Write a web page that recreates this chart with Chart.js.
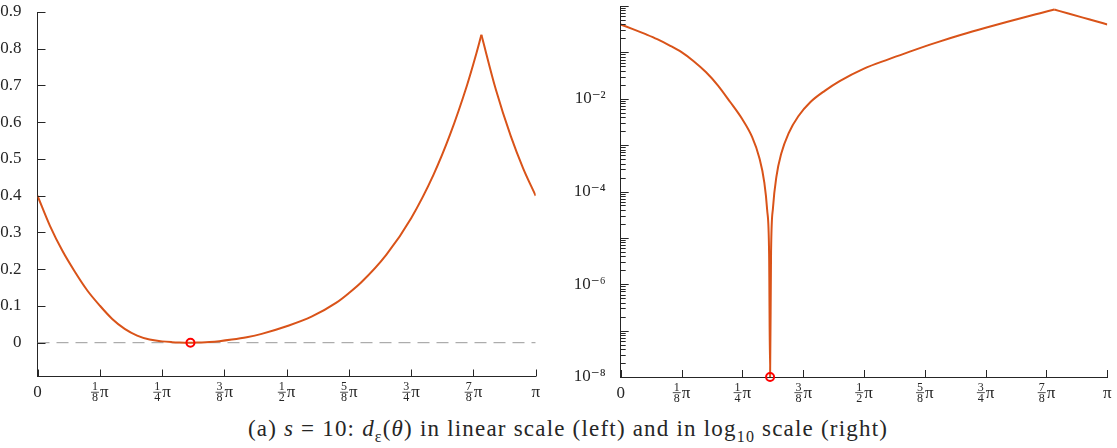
<!DOCTYPE html>
<html>
<head>
<meta charset="utf-8">
<script src="https://cdn.jsdelivr.net/npm/chart.js@4.4.1/dist/chart.umd.min.js"></script>
<style>
  body { margin: 0; background: #fff; }
  #wrap { position: relative; width: 1117px; height: 448px; overflow: hidden; }
  #left { position: absolute; left: 0; top: 0; }
  #right { position: absolute; left: 575px; top: 0; }
  #caption {
    position: absolute; left: 0; top: 416px; width: 1136px; text-align: center;
    font-family: 'Liberation Serif', 'DejaVu Serif', serif; font-size: 23px;
    letter-spacing: 1.2px; color: #262626; white-space: nowrap;
  }
  #caption sub { font-size: 16px; }
</style>
</head>
<body>
<div id="wrap">
  <canvas id="left" width="575" height="405"></canvas>
  <canvas id="right" width="542" height="405"></canvas>
  <div id="caption">(a) <i>s</i> = 10: <i>d</i><sub>ε</sub>(<i>θ</i>) in linear scale (left) and in log<sub>10</sub> scale (right)</div>
</div>
<script>
// theta is in units of pi
var theta = [0.000, 0.025, 0.050, 0.075, 0.100, 0.125, 0.150, 0.175, 0.200, 0.225,
  0.250, 0.270, 0.285, 0.295, 0.301, 0.305, 0.307, 0.309, 0.313, 0.320,
  0.330, 0.345, 0.365, 0.390, 0.420, 0.450, 0.500, 0.550, 0.600, 0.625,
  0.650, 0.700, 0.750, 0.795, 0.828, 0.862, 0.879, 0.891, 0.920, 0.950,
  0.975, 1.000];
var dist = [0.400, 0.318, 0.250, 0.193, 0.142, 0.101, 0.0646, 0.0376, 0.0193, 0.0085,
  0.0036, 0.0015, 0.00053, 0.00016, 0.00004, 0.0000045, 1e-8, 0.000005, 0.000045, 0.00021,
  0.00066, 0.0018, 0.0042, 0.0085, 0.0150, 0.0240, 0.0447, 0.0708, 0.1090, 0.1350,
  0.1644, 0.2390, 0.3390, 0.4575, 0.5660, 0.7000, 0.7780, 0.8380, 0.6890, 0.5620,
  0.4740, 0.4000];

var xTicks = [0, 0.125, 0.25, 0.375, 0.5, 0.625, 0.75, 0.875, 1];
var xTickNum = [0, 1, 1, 3, 1, 5, 3, 7, 1];
var xTickDen = [1, 8, 4, 8, 2, 8, 4, 8, 1];
var linTicks = [0, 0.1, 0.2, 0.3, 0.4, 0.5, 0.6, 0.7, 0.8, 0.9];
var logExps = [-8, -7, -6, -5, -4, -3, -2, -1, 0];
var logLabelExps = [-8, -6, -4, -2];
var logLabels = ['10⁻⁸', '10⁻⁶', '10⁻⁴', '10⁻²'];

var axisColor = '#262626';
var lineColor = '#D95319';
var fontFam = "'Liberation Serif', 'DejaVu Serif', serif";

var curve = theta.map(function (t, i) { return { x: t, y: dist[i] }; });
var iMin = dist.indexOf(Math.min.apply(null, dist));
var iPeak = dist.indexOf(Math.max.apply(null, dist.slice(1)));
var minPoint = [{ x: theta[iMin], y: dist[iMin] }];

function isPow10(v) {
  var k = Math.round(Math.log10(v));
  return Math.abs(v - Math.pow(10, k)) < 1e-6 * v;
}

// MATLAB-style ticks pointing into the axes
var innerTicks = {
  id: 'innerTicks',
  afterDraw: function (chart) {
    var ctx = chart.ctx, xs = chart.scales.x, ys = chart.scales.y;
    ctx.save();
    ctx.strokeStyle = axisColor;
    ctx.lineWidth = 1;
    ctx.beginPath();
    xs.ticks.forEach(function (t) {
      var px = Math.round(xs.getPixelForValue(t.value)) + 0.5;
      ctx.moveTo(px, ys.bottom);
      ctx.lineTo(px, ys.bottom - 7);
    });
    ys.ticks.forEach(function (t) {
      var py = Math.round(ys.getPixelForValue(t.value)) + 0.5;
      var len = (ys.type === 'logarithmic' && !isPow10(t.value)) ? 5 : 8;
      ctx.moveTo(xs.left, py);
      ctx.lineTo(xs.left + len, py);
    });
    ctx.stroke();
    ctx.restore();
  }
};

// x tick labels as stacked fractions of pi
var fracLabels = {
  id: 'fracLabels',
  afterDraw: function (chart) {
    var ctx = chart.ctx, xs = chart.scales.x, base = chart.chartArea.bottom;
    ctx.save();
    ctx.fillStyle = axisColor;
    ctx.textBaseline = 'alphabetic';
    xTicks.forEach(function (v, i) {
      var px = xs.getPixelForValue(v), n = xTickNum[i], d = xTickDen[i];
      if (n === 0 || d === 1) {
        ctx.font = '17px ' + fontFam;
        ctx.textAlign = 'center';
        ctx.fillText(n === 0 ? '0' : 'π', px, base + 20.5);
        return;
      }
      ctx.font = '12px ' + fontFam;
      var fw = Math.max(ctx.measureText(String(n)).width, ctx.measureText(String(d)).width) + 2;
      ctx.font = '17px ' + fontFam;
      var pw = ctx.measureText('π').width;
      var x0 = px - (fw + 1 + pw) / 2;
      ctx.font = '12px ' + fontFam;
      ctx.textAlign = 'center';
      ctx.fillText(String(n), x0 + fw / 2, base + 13.5);
      ctx.fillText(String(d), x0 + fw / 2, base + 24.5);
      ctx.fillRect(x0, base + 15.3, fw, 0.8);
      ctx.font = '17px ' + fontFam;
      ctx.textAlign = 'left';
      ctx.fillText('π', x0 + fw + 1, base + 20.5);
    });
    ctx.restore();
  }
};

function xScale(h) {
  return {
    type: 'linear', min: 0, max: 1,
    afterBuildTicks: function (s) { s.ticks = xTicks.map(function (v) { return { value: v }; }); },
    afterFit: function (s) { s.height = h; s.paddingLeft = 0; s.paddingRight = 0; },
    grid: { display: false },
    border: { color: axisColor, width: 1 },
    ticks: { display: false }
  };
}

function curveSets() {
  var a = curve.slice(0, iPeak + 1), b = curve.slice(iPeak);
  return [a, b].map(function (pts) {
    return {
      data: pts, borderColor: lineColor, borderWidth: 2, pointRadius: 0,
      cubicInterpolationMode: 'monotone', fill: false
    };
  });
}
function markerSet(pts) {
  return {
    data: pts, showLine: false, pointRadius: 4, pointBorderWidth: 2,
    pointBorderColor: '#ff0000', pointBackgroundColor: 'rgba(0,0,0,0)', clip: false
  };
}

new Chart(document.getElementById('left'), {
  type: 'line',
  data: {
    datasets: [markerSet(minPoint)].concat(curveSets(), [
      { data: [{ x: 0, y: 0 }, { x: 1, y: 0 }], borderColor: '#999999', borderWidth: 1,
        borderDash: [12, 7], pointRadius: 0 }
    ])
  },
  options: {
    responsive: false, animation: false,
    layout: { padding: { top: 12, right: 39.3, left: 0, bottom: 0 } },
    plugins: { legend: { display: false }, tooltip: { enabled: false } },
    scales: {
      x: xScale(28.5),
      y: {
        type: 'linear', min: -0.092, max: 0.9,
        afterBuildTicks: function (s) { s.ticks = linTicks.map(function (v) { return { value: v }; }); },
        afterFit: function (s) { s.width = 37.5; s.paddingTop = 0; s.paddingBottom = 0; },
        grid: { display: false },
        border: { color: axisColor, width: 1 },
        ticks: {
          autoSkip: false, padding: 8, color: axisColor,
          font: { family: fontFam, size: 17 },
          callback: function (v) { return v === 0 ? '0' : v.toFixed(1); }
        }
      }
    }
  },
  plugins: [innerTicks, fracLabels]
});

var logTicks = [];
logExps.forEach(function (k) {
  for (var m = 1; m <= 9; m++) {
    var v = m * Math.pow(10, k);
    if (v <= 1.0000001) logTicks.push(v);
  }
});

new Chart(document.getElementById('right'), {
  type: 'line',
  data: {
    datasets: [markerSet(minPoint)].concat(curveSets())
  },
  options: {
    responsive: false, animation: false,
    layout: { padding: { top: 0, right: 9.7, left: 0, bottom: 0 } },
    plugins: { legend: { display: false }, tooltip: { enabled: false } },
    scales: {
      x: xScale(28),
      y: {
        type: 'logarithmic', min: 1e-8, max: 1,
        afterBuildTicks: function (s) { s.ticks = logTicks.map(function (v) { return { value: v }; }); },
        afterFit: function (s) { s.width = 45.7; s.paddingTop = 0; s.paddingBottom = 0; },
        grid: { display: false },
        border: { color: axisColor, width: 1 },
        ticks: {
          autoSkip: false, padding: 7, color: axisColor,
          font: { family: fontFam, size: 17 },
          callback: function (v) {
            if (!isPow10(v)) return '';
            var j = logLabelExps.indexOf(Math.round(Math.log10(v)));
            return j < 0 ? '' : logLabels[j];
          }
        }
      }
    }
  },
  plugins: [innerTicks, fracLabels]
});
</script>
</body>
</html>
